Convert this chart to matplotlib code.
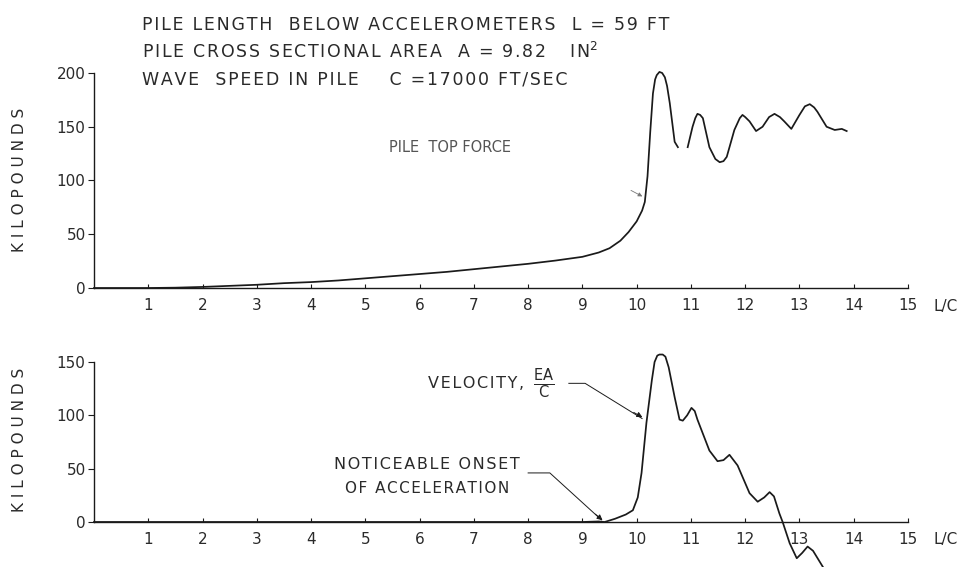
import matplotlib.pyplot as plt
from matplotlib import transforms

# pile top force (kips) against time in L/C units, two traced pieces
force_x = [0, 1.0, 1.5, 2.0, 2.5, 3.0, 3.5, 4.0, 4.5, 5.0, 5.5, 6.0, 6.5, 7.0, 7.5,
           8.0, 8.5, 9.0, 9.3, 9.5, 9.7, 9.85, 10.0, 10.1, 10.15, 10.2, 10.25,
           10.3, 10.34, 10.37, 10.42, 10.47, 10.52, 10.56, 10.61, 10.7, 10.76]
force_y = [0, 0, 0.3, 1, 2, 3, 4.5, 5.5, 7, 9, 11, 13, 15, 17.5, 20,
           22.5, 25.5, 29, 33, 37, 44, 52, 62, 72, 80, 104, 145,
           181, 194, 198, 201, 200, 196, 188, 172, 136, 131]

force2_x = [10.94, 11.03, 11.08, 11.12, 11.17, 11.22, 11.34, 11.45, 11.53, 11.6,
            11.66, 11.8, 11.9, 11.95, 12.0, 12.08, 12.2, 12.32, 12.44, 12.54,
            12.64, 12.72, 12.85, 13.0, 13.1, 13.19, 13.27, 13.33, 13.5, 13.65,
            13.78, 13.87]
force2_y = [131, 150, 158, 162, 161, 158, 131, 120, 117, 118,
            122, 147, 158, 161, 159, 155, 146, 150, 159, 162,
            159, 155, 148, 161, 169, 171, 168, 164, 150, 147,
            148, 146]

# velocity times EA/C (kips)
vel_x = [0, 9.0, 9.3, 9.41, 9.6, 9.8, 9.93, 10.02, 10.09, 10.18, 10.28, 10.33,
         10.38, 10.42, 10.48, 10.53, 10.59, 10.7, 10.79, 10.85, 10.93, 11.01,
         11.07, 11.12, 11.34, 11.49, 11.6, 11.71, 11.86, 12.08, 12.23, 12.35,
         12.45, 12.53, 12.63, 12.69, 12.82, 12.95, 13.05, 13.15, 13.25, 13.43]
vel_y = [0, 0, 0.5, 0, 3, 7, 11, 23, 46, 93, 133, 150,
         156, 157, 157, 155, 145, 117, 96, 95, 100, 107,
         104, 96, 67, 57, 58, 63, 53, 27, 19, 23,
         28, 24, 8, 0, -20, -34, -29, -23, -27, -42]

x_ticks = list(range(1, 16))
x_labels = [str(t) for t in x_ticks]
top_yticks = [0, 50, 100, 150, 200]
bot_yticks = [0, 50, 100, 150]

header = [("PILE LENGTH  BELOW ACCELEROMETERS  L = 59 FT", ""),
          ("PILE CROSS SECTIONAL AREA  A = 9.82   IN", "$^{2}$"),
          ("WAVE  SPEED IN PILE    C =17000 FT/SEC", "")]

ink = "#1a1a1a"
txt = "#2a2a2a"
plt.rcParams["font.family"] = "DejaVu Sans"


def spaced(s):
    # lettering-guide look: a hair space between every character
    return "\u200a".join(s)


fig = plt.figure(figsize=(9.75, 5.67), dpi=100)
W, H = 975.0, 567.0
ax1 = fig.add_axes([94 / W, 1 - 288 / H, 814 / W, 215 / H])
ax2 = fig.add_axes([94 / W, 0, 814 / W, 205 / H])


def style(ax, yticks):
    ax.set_xlim(0, 15)
    for s in ["top", "right"]:
        ax.spines[s].set_visible(False)
    ax.spines["bottom"].set_position(("data", 0))
    ax.spines["left"].set_bounds(0, yticks[-1])
    for s in ["bottom", "left"]:
        ax.spines[s].set_color(ink)
        ax.spines[s].set_linewidth(1.0)
    ax.set_xticks(x_ticks)
    ax.set_xticklabels(x_labels)
    ax.set_yticks(yticks)
    ax.tick_params(axis="x", direction="in", length=3, pad=7, labelsize=11,
                   colors=ink, labelcolor=txt)
    ax.tick_params(axis="y", direction="out", length=4, pad=2, labelsize=11,
                   colors=ink, labelcolor=txt)
    ax.patch.set_visible(False)
    # axis unit label to the right of the last tick
    off = transforms.ScaledTranslation(0, -0.18, fig.dpi_scale_trans)
    ax.text(15.7, 0, "L/C", fontsize=11, color=txt, ha="center", va="center",
            transform=ax.transData + off)


style(ax1, top_yticks)
ax1.set_ylim(0, 200)
ax1.plot(force_x, force_y, color=ink, lw=1.25, clip_on=False)
ax1.plot(force2_x, force2_y, color=ink, lw=1.25, clip_on=False)
ax1.text(6.56, 131, "PILE  TOP FORCE", fontsize=10.5, color="#555555",
         ha="center", va="center")
ax1.annotate("", xy=(10.15, 84), xytext=(9.85, 92),
             arrowprops=dict(arrowstyle="-|>", color="#777777", lw=0.6,
                             mutation_scale=6))

style(ax2, bot_yticks)
ax2.set_ylim(-42.2, 150)
ax2.plot(vel_x, vel_y, color=ink, lw=1.25, clip_on=False)

# leader for the velocity curve
ax2.plot([8.75, 9.05, 10.1], [130, 130, 97], color=ink, lw=0.7)
ax2.annotate("", xy=(10.15, 97), xytext=(9.9, 104),
             arrowprops=dict(arrowstyle="-|>", color=ink, lw=0.7,
                             mutation_scale=8))
ax2.text(6.15, 130, spaced("VELOCITY,"), fontsize=11.5, color=txt, ha="left",
         va="center")
ax2.text(8.28, 130, "$\\frac{\\mathrm{EA}}{\\mathrm{C}}$", fontsize=15,
         color=txt, ha="center", va="center")

# leader for onset of acceleration
ax2.plot([8.0, 8.4, 9.35], [46, 46, 2], color=ink, lw=0.7)
ax2.annotate("", xy=(9.41, 0), xytext=(9.2, 9),
             arrowprops=dict(arrowstyle="-|>", color=ink, lw=0.7,
                             mutation_scale=8))
ax2.text(4.42, 54, spaced("NOTICEABLE ONSET"), fontsize=11.5, color=txt,
         ha="left", va="center")
ax2.text(4.62, 31, spaced("OF ACCELERATION"), fontsize=11, color=txt,
         ha="left", va="center")

fig.text(20 / W, 1 - 180 / H, "K I L O P O U N D S", rotation=90, fontsize=11,
         color=txt, ha="center", va="center")
fig.text(20 / W, 1 - 440 / H, "K I L O P O U N D S", rotation=90, fontsize=11,
         color=txt, ha="center", va="center")

for i, (line, sup) in enumerate(header):
    fig.text(142 / W, 1 - (25 + 27 * i) / H, spaced(line) + sup,
             fontsize=12.5, color=txt, ha="left", va="center")

fig.savefig("out.png", dpi=100)
